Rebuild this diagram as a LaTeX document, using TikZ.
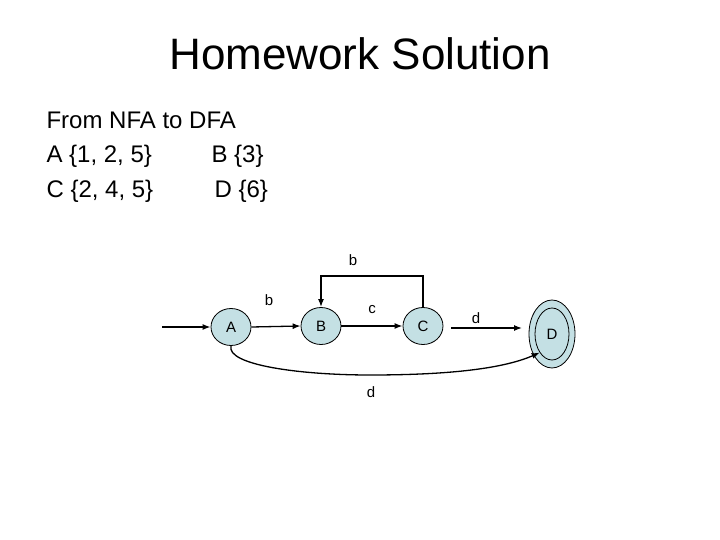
\documentclass[tikz,border=0pt]{standalone}
\usepackage{fontspec}
\setmainfont{Liberation Sans}
\usetikzlibrary{arrows.meta,shapes.geometric}
\definecolor{st}{RGB}{196,224,228}
\begin{document}
\begin{tikzpicture}[x=1pt,y=-1pt,
  state/.style={ellipse,draw,fill=st,line width=0.8pt,minimum width=40pt,minimum height=37pt,inner sep=0pt,font=\fontsize{15}{17}\selectfont},
  lab/.style={font=\fontsize{15}{17}\selectfont},
  body/.style={anchor=base west,font=\fontsize{24}{28}\selectfont},
  edge/.style={-{Latex[length=8pt,width=6pt]},line width=1.3pt}]
\useasboundingbox (0,0) rectangle (720,540);
\node[font=\fontsize{44}{52}\selectfont] (title) at (360,54) {Homework Solution};
\node[body] (t1) at (43,129) {From NFA to DFA};
\node[body] (t2) at (43,163) {A \{1, 2, 5\}};
\node[body] (t3) at (208,163) {B \{3\}};
\node[body] (t4) at (43,197) {C \{2, 4, 5\}};
\node[body] (t5) at (211,197) {D \{6\}};
\node[state] (A) at (231,327) {A};
\node[state] (B) at (321,326) {B};
\node[state] (C) at (423,326) {C};
\node[ellipse,draw,fill=st,line width=0.8pt,minimum width=46pt,minimum height=68pt,inner sep=0pt] (Do) at (552,334) {};
\node[ellipse,draw,line width=0.8pt,minimum width=34pt,minimum height=52pt,inner sep=0pt,font=\fontsize{15}{17}\selectfont] (D) at (552,334) {D};
\coordinate (s) at (162,327);
\coordinate (cd1) at (451,328);
\coordinate (cd2) at (522,328);
\draw[edge] (s) -- (A.west);
\draw[edge] (A.east) -- (B.west);
\draw[edge] (B.east) -- (C.west);
\draw[edge] (C.north) -- ++(0,-31) -| (B.north);
\draw[edge] (cd1) -- (cd2);
\draw[edge] (A.south) .. controls (226,365) and (300,375) .. (370,375) .. controls (440,375) and (500,370) .. (D.south west);
\node[lab] (l1) at (269,300) {b};
\node[lab] (l2) at (372,310) {c};
\node[lab] (l3) at (353,260) {b};
\node[lab] (l4) at (476,318) {d};
\node[lab] (l5) at (371,392) {d};
\end{tikzpicture}
\end{document}
